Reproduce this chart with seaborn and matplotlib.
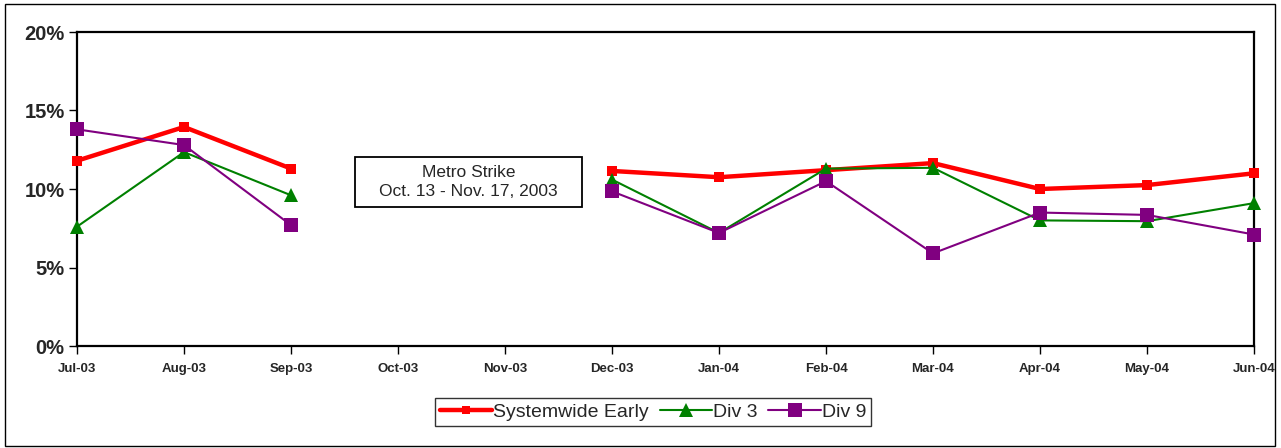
import numpy as np
import pandas as pd
import matplotlib
matplotlib.use("Agg")
import matplotlib.pyplot as plt
from matplotlib.patches import Rectangle
import seaborn as sns

months = ["Jul-03", "Aug-03", "Sep-03", "Oct-03", "Nov-03", "Dec-03",
          "Jan-04", "Feb-04", "Mar-04", "Apr-04", "May-04", "Jun-04"]
systemwide = [11.8, 13.95, 11.3, np.nan, np.nan, 11.15, 10.75, 11.2, 11.65, 10.0, 10.25, 11.0]
div3 = [7.6, 12.35, 9.6, np.nan, np.nan, 10.6, 7.2, 11.3, 11.35, 8.0, 7.95, 9.1]
div9 = [13.8, 12.8, 7.7, np.nan, np.nan, 9.85, 7.2, 10.5, 5.9, 8.5, 8.35, 7.1]
yticks = [0, 5, 10, 15, 20]
note = "Metro Strike\nOct. 13 - Nov. 17, 2003"

sns.set_theme(style="white")
plt.rcParams["font.family"] = ["Liberation Sans", "DejaVu Sans"]

# long table; months with no data split each series into separate runs
rows = []
for name, vals in [("Systemwide Early", systemwide), ("Div 3", div3), ("Div 9", div9)]:
    seg = 0
    for i, v in enumerate(vals):
        if np.isnan(v):
            seg += 1
            continue
        rows.append({"series": name, "x": i, "value": v, "run": seg})
df = pd.DataFrame(rows)

styles = {
    "Systemwide Early": dict(color="#ff0000", marker="s", lw=3.2, ms=6.5),
    "Div 3": dict(color="#008000", marker="^", lw=1.5, ms=10),
    "Div 9": dict(color="#800080", marker="s", lw=1.5, ms=10),
}

fig = plt.figure(figsize=(12.81, 4.48), dpi=100)
ax = fig.add_axes([77 / 1281, 1 - 346 / 448, (1254 - 77) / 1281, (346 - 32) / 448])

handles = []
for name in ["Systemwide Early", "Div 3", "Div 9"]:
    st = styles[name]
    sub = df[df.series == name]
    sns.lineplot(data=sub, x="x", y="value", units="run", estimator=None,
                 color=st["color"], marker=st["marker"], linewidth=st["lw"],
                 markersize=st["ms"], markeredgewidth=0, ax=ax, legend=False,
                 clip_on=False, zorder=3)
    handles.append(plt.Line2D([], [], color=st["color"], marker=st["marker"],
                              lw=st["lw"], ms=st["ms"] * 0.95, mew=0, label=name))

ax.set_xlim(0, len(months) - 1)
ax.set_ylim(0, 20)
ax.set_xticks(range(len(months)))
ax.set_xticklabels(months, fontsize=9.5, fontweight="bold")
ax.set_yticks(yticks)
ax.set_yticklabels([f"{t}%" for t in yticks], fontsize=14.5, fontweight="bold")
ax.set_xlabel("")
ax.set_ylabel("")
ax.tick_params(axis="both", direction="out", length=6, width=1, color="black",
               bottom=True, left=True, pad=3)
ax.tick_params(axis="x", pad=6)
for sp in ax.spines.values():
    sp.set_color("black")
    sp.set_linewidth(1.6)
    sp.set_visible(True)

# strike annotation: framed box with two centred lines
box_cx, box_cy = 3.66, 10.45
box_w, box_h = 227 / 1177 * 11, 50 / 314 * 20
ax.add_patch(Rectangle((box_cx - box_w / 2, box_cy - box_h / 2), box_w, box_h,
                       fc="white", ec="black", lw=1.3, zorder=4))
ax.text(box_cx, box_cy, note, ha="center", va="center", fontsize=12.5,
        linespacing=1.35, zorder=5)

leg = fig.legend(handles=handles, loc="center", bbox_to_anchor=(653 / 1281, 1 - 412 / 448),
                 ncol=3, fontsize=14, frameon=True, fancybox=False,
                 handlelength=2.7, handletextpad=0.05, columnspacing=0.55,
                 borderpad=0.25, edgecolor="black")
leg.get_frame().set_linewidth(1.0)

fig.patches.append(Rectangle((5 / 1281, 2 / 448), 1270 / 1281, 442 / 448,
                             transform=fig.transFigure, fill=False,
                             ec="black", lw=1.0))

fig.savefig("out.png", dpi=100, facecolor="white")
